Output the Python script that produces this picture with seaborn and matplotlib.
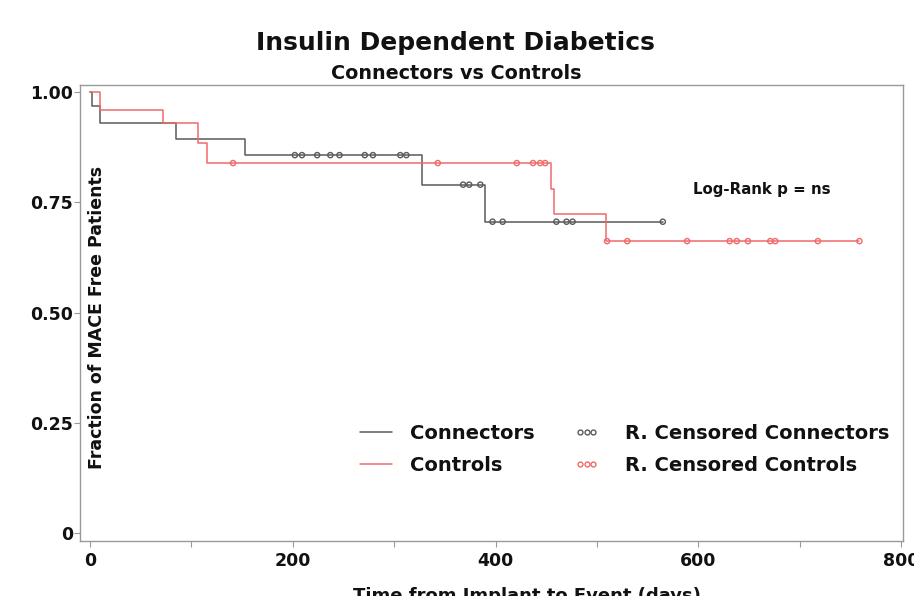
import numpy as np
import pandas as pd
import matplotlib
matplotlib.use("Agg")
import matplotlib.pyplot as plt
from matplotlib.lines import Line2D
import seaborn as sns

sns.set_style("white")
plt.rcParams['font.family'] = ['DejaVu Sans']
plt.rcParams['text.color'] = '#111111'
plt.rcParams['xtick.labelcolor'] = '#111111'
plt.rcParams['ytick.labelcolor'] = '#111111'

# Kaplan-Meier step data (time of step, survival after step)
conn_times = [0, 2, 10, 85, 153, 327, 390, 565]
conn_surv = [1.0, 0.968, 0.929, 0.893, 0.857, 0.790, 0.706, 0.706]
ctrl_times = [0, 10, 72, 106, 115, 455, 458, 509, 759]
ctrl_surv = [1.0, 0.960, 0.929, 0.884, 0.839, 0.780, 0.723, 0.662, 0.662]

# right-censored observation times
conn_cens = [202, 209, 224, 237, 246, 271, 279, 306, 312, 368, 374, 385,
             397, 407, 460, 470, 476, 565]
ctrl_cens = [141, 343, 421, 437, 444, 449, 510, 530, 589, 631, 638, 649,
             671, 676, 718, 759]

x_ticks = [0, 200, 400, 600, 800]
y_ticks = [0, 0.25, 0.50, 0.75, 1.00]
y_labels = ["0", "0.25", "0.50", "0.75", "1.00"]

conn_color = "#5a5a5a"
ctrl_color = "#f06a6a"


def surv_at(times, surv, t):
    i = np.searchsorted(times, t, side="right") - 1
    return surv[max(i, 0)]


curves = pd.concat([
    pd.DataFrame({"t": conn_times, "s": conn_surv, "g": "Connectors"}),
    pd.DataFrame({"t": ctrl_times, "s": ctrl_surv, "g": "Controls"}),
])
cens = pd.concat([
    pd.DataFrame({"t": conn_cens,
                  "s": [surv_at(conn_times, conn_surv, t) for t in conn_cens],
                  "g": "R. Censored Connectors"}),
    pd.DataFrame({"t": ctrl_cens,
                  "s": [surv_at(ctrl_times, ctrl_surv, t) for t in ctrl_cens],
                  "g": "R. Censored Controls"}),
])

W, H = 914, 596
fig = plt.figure(figsize=(W / 100, H / 100), dpi=100)
ax = fig.add_axes([80 / W, 1 - 541 / H, 823 / W, 456 / H])

for name, col in [("Connectors", conn_color), ("Controls", ctrl_color)]:
    d = curves[curves.g == name]
    sns.lineplot(data=d, x="t", y="s", ax=ax, color=col, lw=1.1,
                 drawstyle="steps-post", estimator=None, sort=False,
                 legend=False)

for name, col in [("R. Censored Connectors", conn_color),
                  ("R. Censored Controls", ctrl_color)]:
    d = cens[cens.g == name]
    sns.scatterplot(data=d, x="t", y="s", ax=ax, marker="o", s=14,
                    facecolor="none", edgecolor=col, linewidth=1.0,
                    legend=False, zorder=3)

ax.set_xlim(-10, 802)
ax.set_ylim(-0.018, 1.016)
ax.set_xticks(np.arange(0, 801, 100))
ax.set_xticklabels([str(v) if v in x_ticks else "" for v in range(0, 801, 100)],
                   fontsize=12.5, fontweight="bold")
ax.set_yticks(y_ticks)
ax.set_yticklabels(y_labels, fontsize=12.5, fontweight="bold")
ax.tick_params(axis="both", direction="out", length=4, width=0.8,
               color="#999999", bottom=True, left=True)
ax.tick_params(axis="y", pad=1)
ax.tick_params(axis="x", pad=4)
for sp in ax.spines.values():
    sp.set_color("#999999")
    sp.set_linewidth(1.0)

ax.set_xlabel("")
ax.set_ylabel("")
fig.text(527 / W, 1 - 601 / H, "Time from Implant to Event (days)",
         fontsize=13, fontweight="bold", ha="center", va="baseline")
ax.text(0.021, 0.49, "Fraction of MACE Free Patients", rotation=90,
        fontsize=12.5, fontweight="bold", ha="center", va="center",
        transform=ax.transAxes)
ax.text(595, 0.78, "Log-Rank p = ns", fontsize=10.8, fontweight="bold",
        ha="left", va="center")

fig.text(455 / W, 1 - 50 / H, "Insulin Dependent Diabetics", fontsize=18,
         fontweight="bold", ha="center", va="baseline")
fig.text(456 / W, 1 - 79 / H, "Connectors vs Controls", fontsize=13.8,
         fontweight="bold", ha="center", va="baseline")

fs = 14
line_handles = [Line2D([], [], color=conn_color, lw=1.1),
                Line2D([], [], color=ctrl_color, lw=1.1)]
mark_handles = [Line2D([], [], ls="none", marker="o", mfc="none",
                       mec=conn_color, ms=3.5, mew=1.0),
                Line2D([], [], ls="none", marker="o", mfc="none",
                       mec=ctrl_color, ms=3.5, mew=1.0)]
leg1 = ax.legend(line_handles, ["Connectors", "Controls"], frameon=False,
                 loc="upper left", bbox_to_anchor=(360 / W, 1 - 424 / H),
                 bbox_transform=fig.transFigure, borderpad=0, borderaxespad=0,
                 prop={"weight": "bold", "size": fs}, handlelength=1.65,
                 handletextpad=0.93, labelspacing=0.65)
ax.add_artist(leg1)
ax.legend(mark_handles, ["R. Censored Connectors", "R. Censored Controls"],
          frameon=False, loc="upper left",
          bbox_to_anchor=(574 / W, 1 - 424 / H),
          bbox_transform=fig.transFigure, borderpad=0, borderaxespad=0,
          prop={"weight": "bold", "size": fs}, handlelength=1.3,
          handletextpad=1.3, labelspacing=0.65, numpoints=3)

fig.savefig("out.png", dpi=100)
